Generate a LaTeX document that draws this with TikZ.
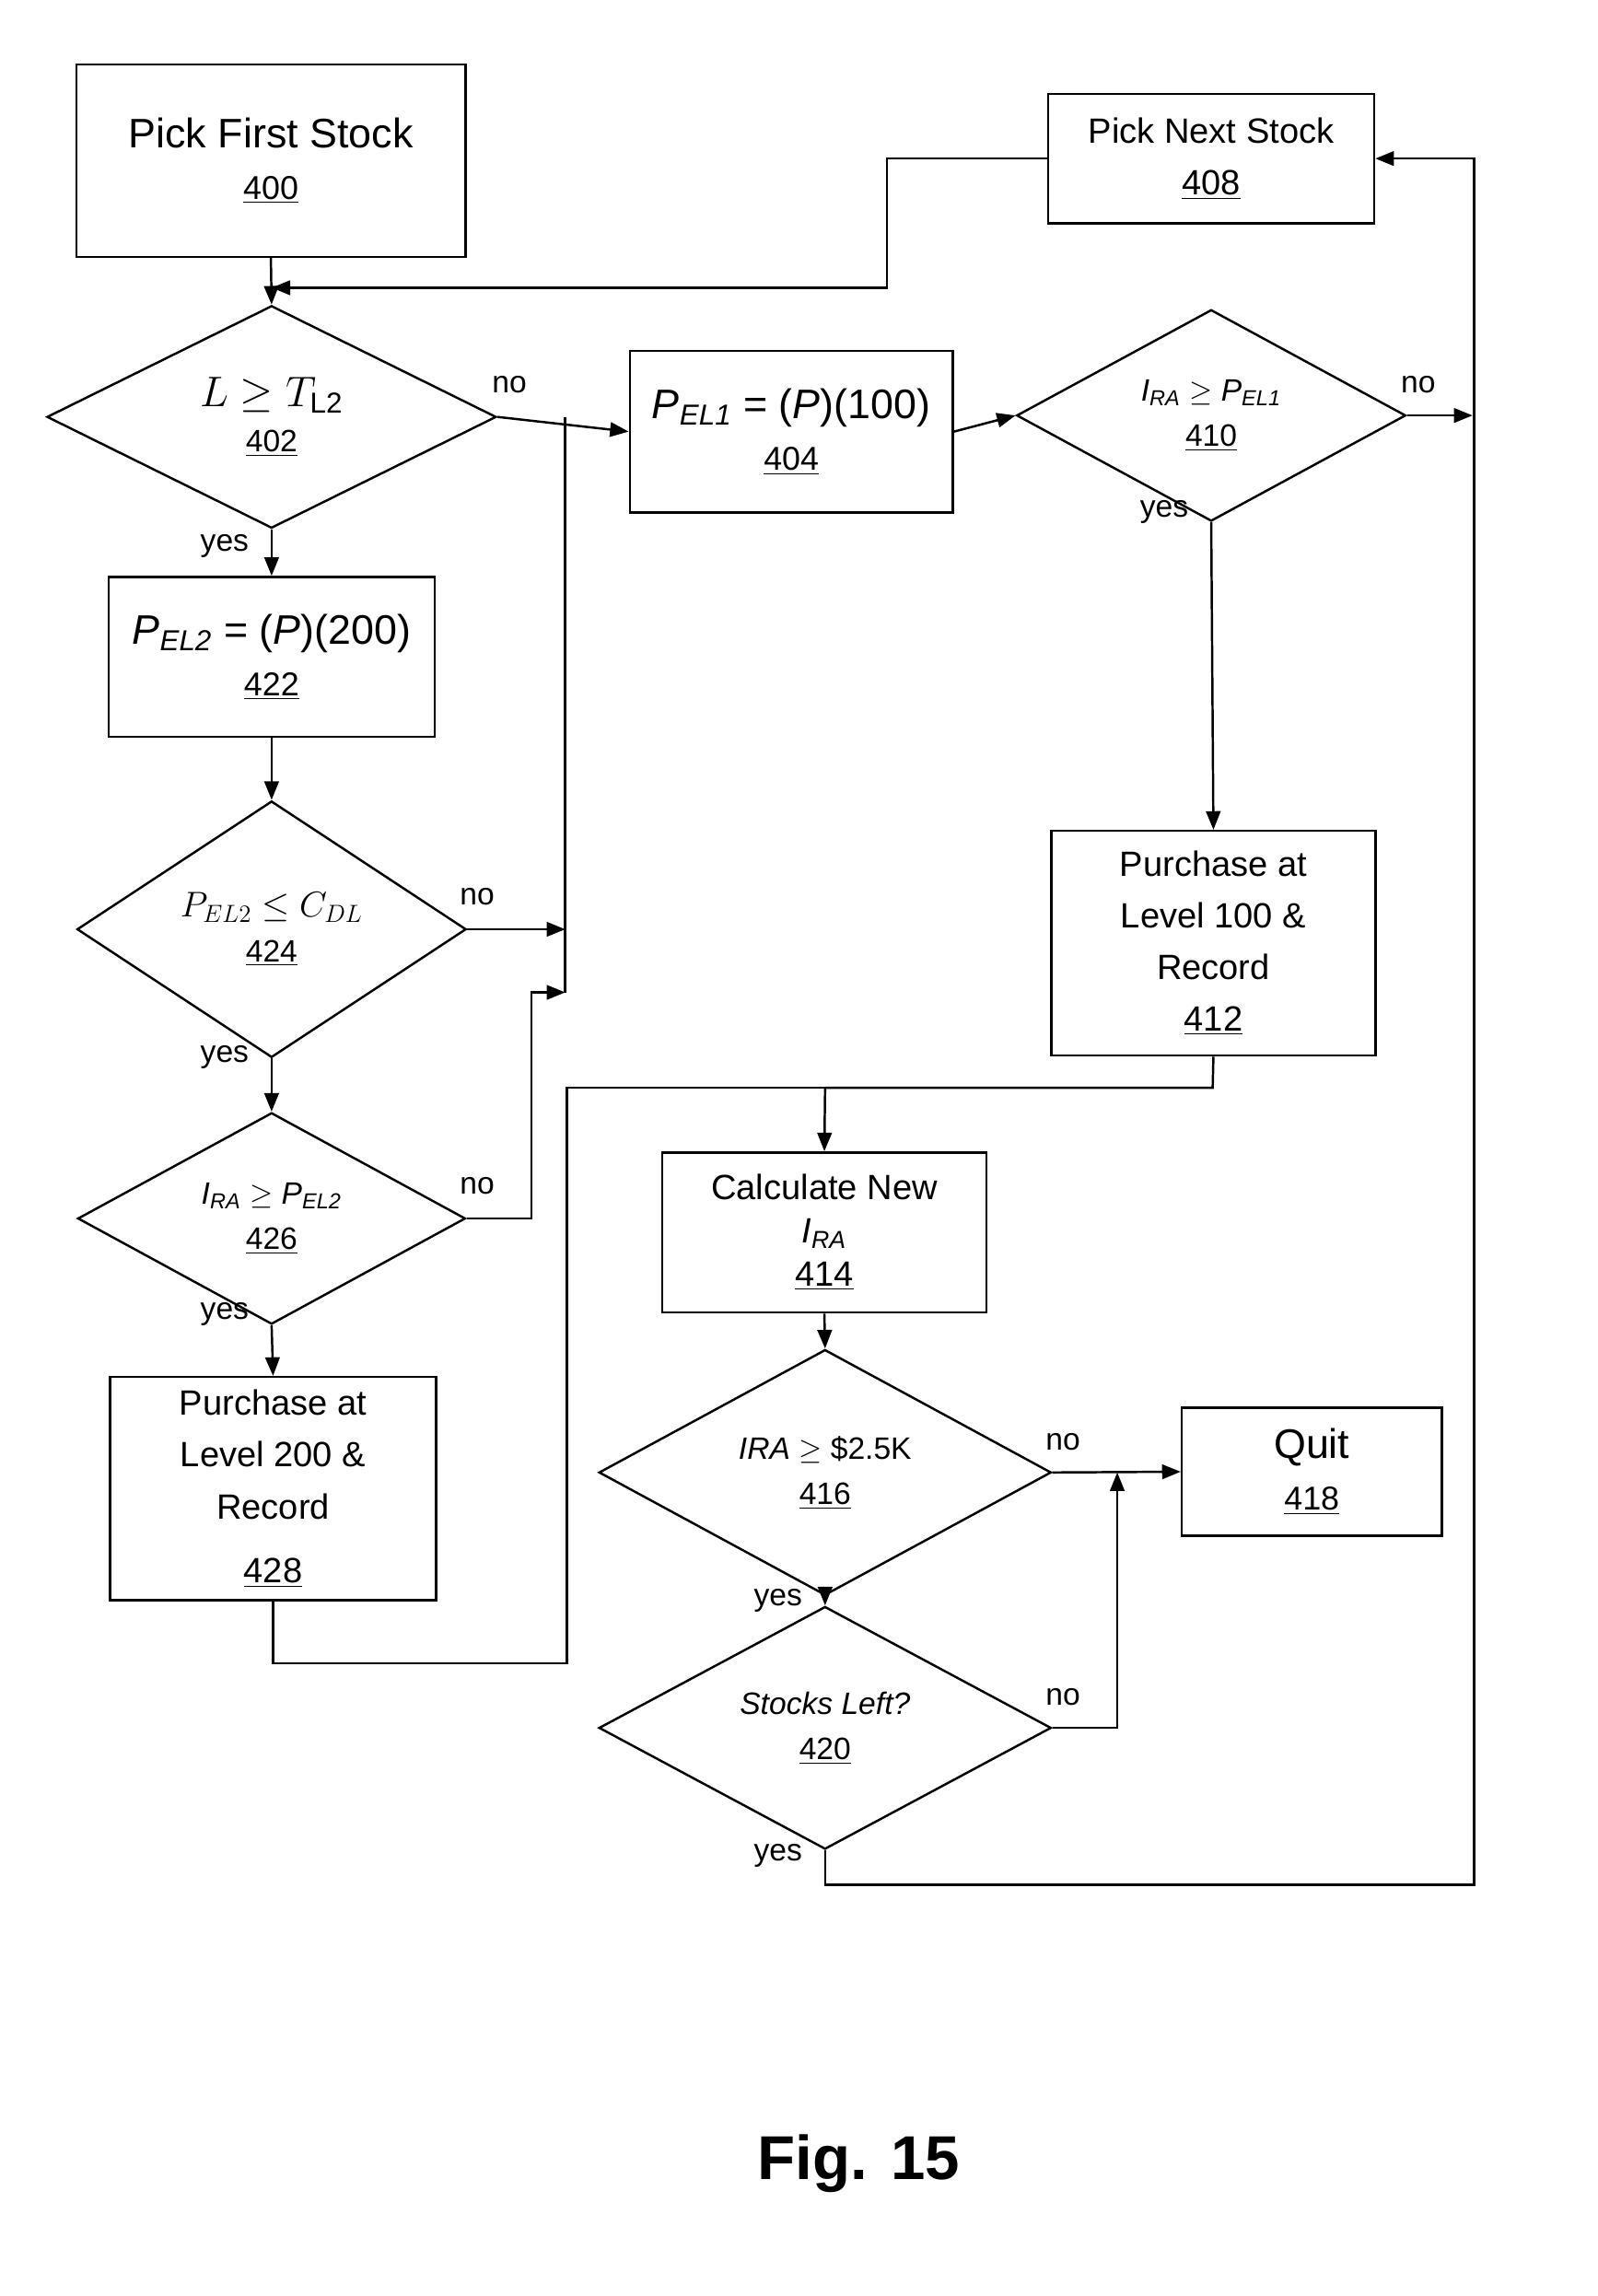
\documentclass[tikz,border=0pt]{standalone}
\usepackage{fontspec}
\setmainfont{Liberation Sans}
\usetikzlibrary{shapes.geometric,arrows.meta}
\newcommand{\nm}[1]{\underline{#1}}
\begin{document}
\begin{tikzpicture}[x=0.025cm,y=-0.025cm,
 box/.style={draw,line width=1.1pt,rectangle,inner sep=0pt,align=center,font=\fontsize{17}{25}\selectfont},
 dia/.style={draw,line width=1.1pt,diamond,inner sep=0pt,align=center,font=\fontsize{15}{22}\selectfont},
 ln/.style={line width=1.1pt},
 ar/.style={line width=1.1pt,-{Triangle[length=9pt,width=7pt]}},
 lb/.style={font=\fontsize{15}{18}\selectfont}]
\useasboundingbox (0,0) rectangle (1088,1564);
\node[box,minimum width=6.625cm,minimum height=3.275cm] (n400) at (184.5,109.5) {\fontsize{20}{40}\selectfont Pick First Stock\\ \fontsize{16}{20}\selectfont\nm{400}};
\node[box,minimum width=5.55cm,minimum height=2.2cm] (n408) at (825,108) {Pick Next Stock\\ \nm{408}};
\node[dia,minimum width=7.65cm,minimum height=3.25cm] (n402) at (185,284) {{\fontsize{20}{24}\selectfont\fontspec{Liberation Serif}$L\geq T_{\mathrm{L2}}$}\\ \nm{402}};
\node[box,minimum width=5.5cm,minimum height=2.75cm] (n404) at (539,294) {\fontsize{20}{38}\selectfont\textit{P}\textsubscript{\textit{EL1}} = (\textit{P})(100)\\ \fontsize{16}{20}\selectfont\nm{404}};
\node[dia,minimum width=6.625cm,minimum height=3.25cm] (n410) at (825,283) {\textit{I}\textsubscript{\textit{RA}} $\geq$ \textit{P}\textsubscript{\textit{EL1}}\\ \nm{410}};
\node[box,minimum width=5.55cm,minimum height=2.725cm] (n422) at (185,447.5) {\fontsize{20}{38}\selectfont\textit{P}\textsubscript{\textit{EL2}} = (\textit{P})(200)\\ \fontsize{16}{20}\selectfont\nm{422}};
\node[dia,minimum width=6.625cm,minimum height=4.35cm] (n424) at (185,633) {{\fontspec{Liberation Serif}\fontsize{18}{22}\selectfont$P_{EL2}\leq C_{DL}$}\\ \nm{424}};
\node[dia,minimum width=6.6cm,minimum height=3.25cm] (n426) at (185,830) {\textit{I}\textsubscript{\textit{RA}} $\geq$ \textit{P}\textsubscript{\textit{EL2}}\\ \nm{426}};
\node[box,minimum width=5.55cm,minimum height=3.8cm] (n428) at (186,1014) {Purchase at\\ Level 200 \&\\ Record\\[6pt] \nm{428}};
\node[box,minimum width=5.525cm,minimum height=3.825cm] (n412) at (826.5,642.5) {Purchase at\\ Level 100 \&\\ Record\\ \nm{412}};
\node[box,minimum width=5.525cm,minimum height=2.725cm] (n414) at (561.5,839.5) {Calculate New\\[-4pt] \textit{I}\textsubscript{\textit{RA}}\\[-4pt] \nm{414}};
\node[dia,minimum width=7.7cm,minimum height=3.25cm] (n416) at (562,1003) {\textit{IRA} $\geq$ \$2.5K\\ \nm{416}};
\node[dia,minimum width=7.7cm,minimum height=3.25cm] (n420) at (562,1177) {\textit{Stocks Left?}\\ \nm{420}};
\node[box,minimum width=4.425cm,minimum height=2.175cm] (n418) at (893.5,1002.5) {\fontsize{20}{30}\selectfont Quit\\ \fontsize{16}{20}\selectfont\nm{418}};
\node[font=\bfseries\fontsize{30}{36}\selectfont] (fig) at (585,1474) {Fig. 15};
% connectors
\draw[ar] (n400.south) -- (n402.north);
\coordinate (m1) at (185,196);
\draw[ar] (n408.west) -- (604,108) -- (604,196) -- (m1);
\draw[ar] (n402.east) -- (n404.west);
\coordinate (v1) at (385,284);
\coordinate (v2) at (385,633);
\coordinate (v3) at (385,676);
\draw[ln] (v1) -- (v3);
\draw[ar] (n424.east) -- (v2);
\draw[ar] (n426.east) -- (362,830) -- (362,676) -- (v3);
\draw[ar] (n402.south) -- (n422.north);
\draw[ar] (n422.south) -- (n424.north);
\draw[ar] (n424.south) -- (n426.north);
\draw[ar] (n426.south) -- (n428.north);
\draw[ar] (n404.east) -- (n410.west);
\coordinate (r1) at (1003,283);
\draw[ar] (n410.east) -- (r1);
\draw[ar] (n410.south) -- (n412.north);
\coordinate (j1) at (562,741);
\draw[ln] (n412.south) -- (826,741) -- (j1);
\draw[ln] (n428.south) -- (186,1133) -- (386,1133) -- (386,741) -- (j1);
\draw[ar] (j1) -- (n414.north);
\draw[ar] (n414.south) -- (n416.north);
\draw[ar] (n416.east) -- (n418.west);
\draw[ar] (n416.south) -- (n420.north);
\coordinate (q1) at (761,1003);
\draw[ar] (n420.east) -- (761,1177) -- (q1);
\draw[ar] (n420.south) -- (562,1284) -- (1004,1284) -- (1004,108) -- (n408.east);
% labels
\node[lb] at (347,262) {no};
\node[lb] at (325,611) {no};
\node[lb] at (325,808) {no};
\node[lb] at (966,262) {no};
\node[lb] at (724,982) {no};
\node[lb] at (724,1156) {no};
\node[lb] at (153,372) {yes};
\node[lb] at (153,720) {yes};
\node[lb] at (153,895) {yes};
\node[lb] at (793,349) {yes};
\node[lb] at (530,1090) {yes};
\node[lb] at (530,1264) {yes};
\end{tikzpicture}
\end{document}
